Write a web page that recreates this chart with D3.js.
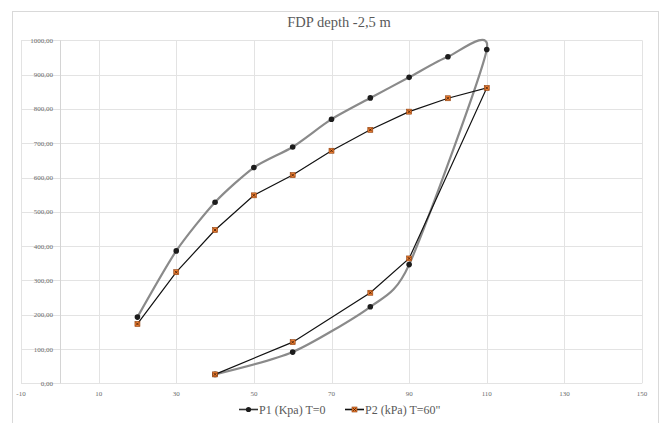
<!DOCTYPE html>
<html>
<head>
<meta charset="utf-8">
<script src="https://cdn.jsdelivr.net/npm/d3@7"></script>
<style>
    body { margin: 0; background: #fff; }
</style>
</head>
<body>
<script>
var chartTitle = "FDP depth -2,5 m";
var seriesNames = ["P1 (Kpa) T=0", "P2 (kPa) T=60\""];

// loading branch then unloading branch
var p1X = [20, 30, 40, 50, 60, 70, 80, 90, 100, 110, 90, 80, 60, 40];
var p1Y = [193, 386, 528, 629, 689, 770, 832, 892, 952, 973, 346, 223, 91, 26];
var p2X = [20, 30, 40, 50, 60, 70, 80, 90, 100, 110, 90, 80, 60, 40];
var p2Y = [173, 324, 447, 548, 607, 678, 739, 792, 831, 861, 364, 264, 120, 26];

var xTicks = [-10, 10, 30, 50, 70, 90, 110, 130, 150];
var yTicks = [0, 100, 200, 300, 400, 500, 600, 700, 800, 900, 1000];

var width = 665, height = 423;
var serif = "'Times New Roman', 'Liberation Serif', Times, 'DejaVu Serif', serif";
var colors = {
    grid: "#e3e3e3",
    border: "#d9d9d9",
    text: "#6b6b6b",
    p1Line: "#8a8a8a",
    p1Marker: "#1c1c1c",
    p2Line: "#111111",
    p2Marker: "#ed7d31",
    p2MarkerEdge: "#8a3d0c"
};

var svg = d3.select("body").append("svg")
    .attr("width", width)
    .attr("height", height)
    .style("font-family", serif);

svg.append("rect")
    .attr("x", 12.5).attr("y", 11.5)
    .attr("width", 646).attr("height", 430)
    .attr("fill", "#fff")
    .attr("stroke", colors.border);

var x = d3.scaleLinear().domain([-10, 150]).range([21, 642]);
var y = d3.scaleLinear().domain([0, 1000]).range([383.3, 40.3]);

// gridlines
svg.append("g").selectAll("line").data(yTicks).enter().append("line")
    .attr("x1", x(-10)).attr("x2", x(150))
    .attr("y1", function (d) { return Math.round(y(d)) + 0.5; })
    .attr("y2", function (d) { return Math.round(y(d)) + 0.5; })
    .attr("stroke", colors.grid).attr("stroke-width", 1);

svg.append("g").selectAll("line").data(xTicks.concat([0])).enter().append("line")
    .attr("x1", function (d) { return Math.round(x(d)) + 0.5; })
    .attr("x2", function (d) { return Math.round(x(d)) + 0.5; })
    .attr("y1", y(1000)).attr("y2", y(0))
    .attr("stroke", function (d) { return d === 0 ? "#d4d4d4" : colors.grid; })
    .attr("stroke-width", 1);

// tick labels
var fmt = function (d) { return d3.format(".2f")(d).replace(".", ","); };
svg.append("g").selectAll("text").data(yTicks).enter().append("text")
    .attr("x", 53).attr("y", function (d) { return y(d) + 2.5; })
    .attr("text-anchor", "end")
    .style("font-family", serif)
    .attr("font-size", 7)
    .attr("fill", colors.text)
    .text(fmt);

svg.append("g").selectAll("text").data(xTicks).enter().append("text")
    .attr("x", function (d) { return x(d); }).attr("y", 395.5)
    .attr("text-anchor", "middle")
    .style("font-family", serif)
    .attr("font-size", 7)
    .attr("fill", colors.text)
    .text(function (d) { return d; });

// title
svg.append("text")
    .attr("x", 339).attr("y", 27)
    .attr("text-anchor", "middle")
    .style("font-family", serif)
    .attr("font-size", 14.5)
    .attr("fill", "#595959")
    .text(chartTitle);

var p1 = p1X.map(function (d, i) { return [d, p1Y[i]]; });
var p2 = p2X.map(function (d, i) { return [d, p2Y[i]]; });

var smooth = d3.line()
    .x(function (d) { return x(d[0]); })
    .y(function (d) { return y(d[1]); })
    .curve(d3.curveCardinal.tension(0.3));
var straight = d3.line()
    .x(function (d) { return x(d[0]); })
    .y(function (d) { return y(d[1]); });

function drawSquare(g, cx, cy) {
    g.append("rect")
        .attr("x", cx - 2.5).attr("y", cy - 2.5)
        .attr("width", 5).attr("height", 5)
        .attr("fill", colors.p2Marker)
        .attr("stroke", colors.p2MarkerEdge).attr("stroke-width", 0.6);
    g.append("path")
        .attr("d", "M" + (cx - 1.4) + "," + (cy - 1.4) + "L" + (cx + 1.4) + "," + (cy + 1.4) +
            "M" + (cx + 1.4) + "," + (cy - 1.4) + "L" + (cx - 1.4) + "," + (cy + 1.4))
        .attr("stroke", "#3a1a05").attr("stroke-width", 0.8);
}

// series 1
svg.append("path")
    .attr("d", smooth(p1))
    .attr("fill", "none")
    .attr("stroke", colors.p1Line)
    .attr("stroke-width", 2.2);
svg.append("g").selectAll("circle").data(p1).enter().append("circle")
    .attr("cx", function (d) { return x(d[0]); })
    .attr("cy", function (d) { return y(d[1]); })
    .attr("r", 2.8)
    .attr("fill", colors.p1Marker);

// series 2
svg.append("path")
    .attr("d", straight(p2))
    .attr("fill", "none")
    .attr("stroke", colors.p2Line)
    .attr("stroke-width", 1.2);
var m2 = svg.append("g");
p2.forEach(function (d) { drawSquare(m2, x(d[0]), y(d[1])); });

// legend
var ly = 409.5;
svg.append("line").attr("x1", 239).attr("x2", 258).attr("y1", ly).attr("y2", ly)
    .attr("stroke", "#333").attr("stroke-width", 1.6);
svg.append("circle").attr("cx", 248.5).attr("cy", ly).attr("r", 2.6).attr("fill", colors.p1Marker);
svg.append("text").attr("x", 259).attr("y", ly + 4)
    .style("font-family", serif)
    .attr("font-size", 12)
    .attr("fill", "#595959").text(seriesNames[0]);

svg.append("line").attr("x1", 345).attr("x2", 364).attr("y1", ly).attr("y2", ly)
    .attr("stroke", colors.p2Line).attr("stroke-width", 1.6);
drawSquare(svg, 354.5, ly);
svg.append("text").attr("x", 365).attr("y", ly + 4)
    .style("font-family", serif)
    .attr("font-size", 12)
    .attr("fill", "#595959").text(seriesNames[1]);
</script>
</body>
</html>
